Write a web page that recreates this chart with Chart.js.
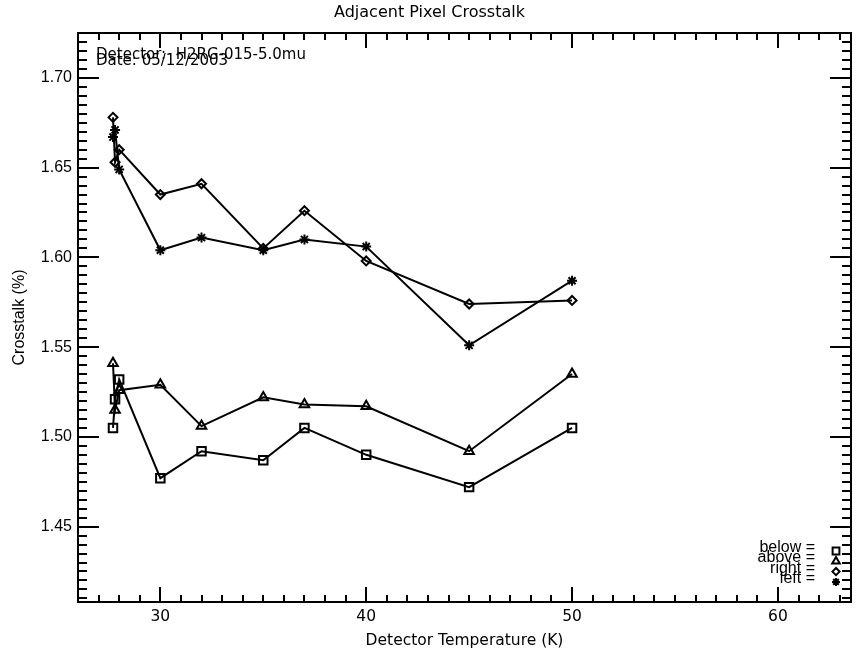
<!DOCTYPE html>
<html>
<head>
<meta charset="utf-8">
<script src="https://cdn.jsdelivr.net/npm/chart.js@4.4.1/dist/chart.umd.min.js"></script>
<style>
  html, body { margin: 0; padding: 0; background: #fff; }
</style>
</head>
<body>
<canvas id="chart-crosstalk" width="859" height="653"></canvas>
<script>
const temps = [27.7, 27.8, 28.0, 30, 32, 35, 37, 40, 45, 50];
const below = [1.505, 1.521, 1.532, 1.477, 1.492, 1.487, 1.505, 1.490, 1.472, 1.505];
const above = [1.541, 1.515, 1.526, 1.529, 1.506, 1.522, 1.518, 1.517, 1.492, 1.535];
const right = [1.678, 1.653, 1.660, 1.635, 1.641, 1.605, 1.626, 1.598, 1.574, 1.576];
const left = [1.667, 1.671, 1.649, 1.604, 1.611, 1.604, 1.610, 1.606, 1.551, 1.587];

const seriesNames = ['below', 'above', 'right', 'left'];
const seriesData = [below, above, right, left];
const symbols = ['rect', 'triangle', 'rectRot', 'star'];
const symbolSize = [6, 5.5, 4.5, 5];

const xTicks = [30, 40, 50, 60];
const yTicks = [1.45, 1.50, 1.55, 1.60, 1.65, 1.70];
const xRange = [26, 63.55];
const yRange = [1.408, 1.725];

const infoLines = ['Detector:  H2RG-015-5.0mu', 'Date: 05/12/2003'];

const vecFont = `'DejaVu Sans', sans-serif`;
const helvFont = `'Liberation Sans', Arial, sans-serif`;

// IDL style box: inward ticks on all four sides, title, notes, legend
const idlFrame = {
  id: 'idlFrame',
  afterDatasetsDraw(chart) {
    const { ctx, chartArea: a, scales: { x, y } } = chart;
    ctx.save();
    ctx.strokeStyle = '#000';
    ctx.fillStyle = '#000';
    ctx.lineWidth = 2;
    ctx.strokeRect(a.left, a.top, a.right - a.left, a.bottom - a.top);

    ctx.beginPath();
    for (let k = Math.ceil(xRange[0]); k <= Math.floor(xRange[1]); k++) {
      const px = Math.round(x.getPixelForValue(k));
      const len = k % 10 === 0 ? 15 : 7;
      ctx.moveTo(px, a.bottom); ctx.lineTo(px, a.bottom - len);
      ctx.moveTo(px, a.top); ctx.lineTo(px, a.top + len);
    }
    for (let k = Math.ceil(yRange[0] * 200); k <= Math.floor(yRange[1] * 200); k++) {
      const py = Math.round(y.getPixelForValue(k / 200));
      const len = k % 10 === 0 ? 21 : 9;
      ctx.moveTo(a.left, py); ctx.lineTo(a.left + len, py);
      ctx.moveTo(a.right, py); ctx.lineTo(a.right - len, py);
    }
    ctx.stroke();

    // title, centred on the window
    ctx.font = `16px ${vecFont}`;
    ctx.textAlign = 'center';
    ctx.textBaseline = 'middle';
    ctx.fillText('Adjacent Pixel Crosstalk', chart.width / 2, 13);

    // detector notes
    ctx.font = `15px ${vecFont}`;
    ctx.textAlign = 'left';
    ctx.textBaseline = 'alphabetic';
    ctx.fillText(infoLines[0], a.left + 18, 59);
    ctx.fillText(infoLines[1], a.left + 18, 65);

    // legend
    ctx.font = `16px ${helvFont}`;
    ctx.textAlign = 'right';
    seriesNames.forEach((name, i) => {
      const yy = 551 + i * 10.3;
      ctx.fillStyle = '#000';
      ctx.fillText(name + ' =', 815, yy + 1);
      ctx.fillStyle = 'rgba(0,0,0,0)';
      ctx.lineWidth = 2;
      Chart.helpers.drawPoint(ctx, {
        pointStyle: symbols[i], rotation: 0, radius: symbolSize[i] * 0.8, borderWidth: 2
      }, 836, yy);
    });
    ctx.restore();
  }
};

const datasets = seriesNames.map((name, i) => ({
  label: name,
  data: temps.map((t, j) => ({ x: t, y: seriesData[i][j] })),
  borderColor: '#000',
  backgroundColor: 'rgba(0,0,0,0)',
  borderWidth: 2,
  pointStyle: symbols[i],
  pointRadius: symbolSize[i],
  pointBorderWidth: 2,
  pointBorderColor: '#000',
  pointBackgroundColor: 'rgba(0,0,0,0)',
  tension: 0,
  fill: false
}));

const crosstalk = document.getElementById('chart-crosstalk');
new Chart(crosstalk, {
  type: 'line',
  data: { datasets },
  options: {
    responsive: false,
    animation: false,
    devicePixelRatio: 1,
    layout: { padding: { top: 33, right: 2, left: 0, bottom: 0 } },
    plugins: {
      legend: { display: false },
      title: { display: false },
      tooltip: { enabled: false }
    },
    scales: {
      x: {
        type: 'linear',
        min: xRange[0],
        max: xRange[1],
        afterBuildTicks: (scale) => { scale.ticks = xTicks.map(v => ({ value: v })); },
        afterFit: (scale) => { scale.height = 51; },
        grid: { display: false, drawTicks: false },
        border: { display: false },
        ticks: {
          color: '#000',
          font: { family: vecFont, size: 15.5 },
          padding: 6,
          maxRotation: 0,
          callback: (v) => String(v)
        },
        title: {
          display: true,
          text: 'Detector Temperature (K)',
          color: '#000',
          font: { family: vecFont, size: 15.5 },
          padding: { top: 0, bottom: 3 }
        }
      },
      y: {
        type: 'linear',
        min: yRange[0],
        max: yRange[1],
        afterBuildTicks: (scale) => { scale.ticks = yTicks.map(v => ({ value: v })); },
        afterFit: (scale) => { scale.width = 78; },
        grid: { display: false, drawTicks: false },
        border: { display: false },
        ticks: {
          color: '#000',
          font: { family: helvFont, size: 16 },
          padding: 6,
          callback: (v) => Number(v).toFixed(2)
        },
        title: {
          display: true,
          text: 'Crosstalk (%)',
          color: '#000',
          font: { family: helvFont, size: 16 },
          padding: { top: 10, bottom: 0 }
        }
      }
    }
  },
  plugins: [idlFrame]
});
</script>
</body>
</html>
